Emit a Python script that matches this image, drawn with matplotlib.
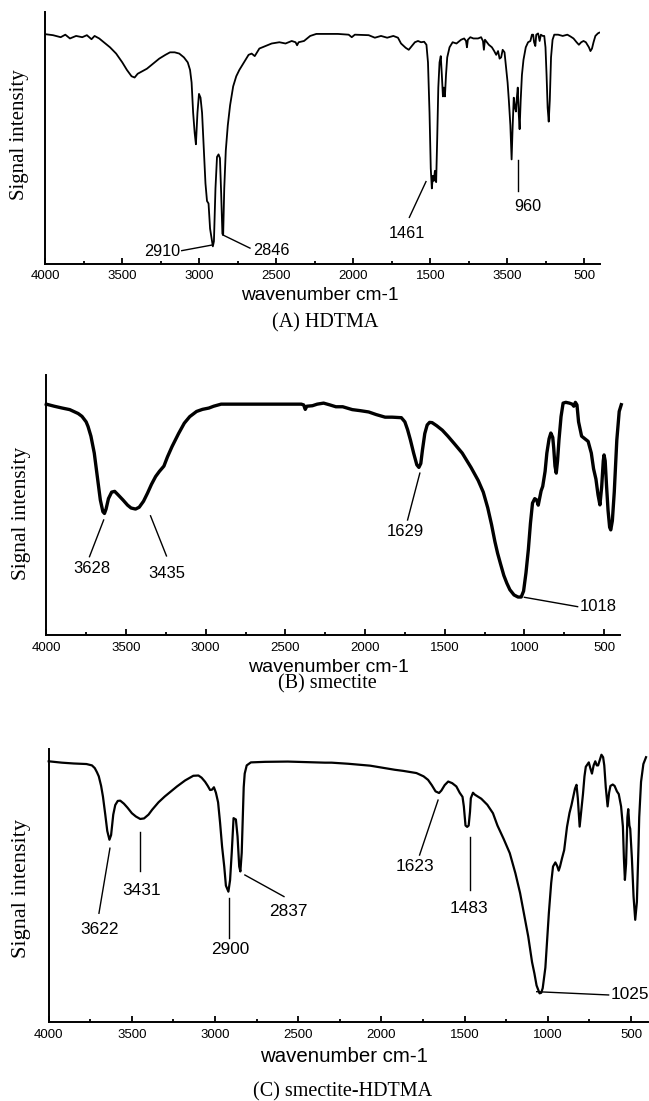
import matplotlib
matplotlib.use("Agg")
import matplotlib.pyplot as plt
import numpy as np

plt.rcParams['font.family'] = ['Liberation Sans', 'DejaVu Sans']

# ---------------- data (wavenumber, signal in % of axis height) ----------------
hdtma_wn = [4000, 3950, 3900, 3870, 3840, 3800, 3760, 3730, 3700, 3680, 3650, 3620, 3580, 3540,
            3500, 3470, 3440, 3420, 3400, 3370, 3340, 3300, 3260, 3220, 3190, 3160, 3130, 3100,
            3075, 3060, 3050, 3040, 3030, 3022, 3012, 3002, 2992, 2982, 2970, 2960, 2950, 2940,
            2930, 2912, 2905, 2895, 2885, 2875, 2866, 2858, 2850, 2845, 2838, 2828, 2815, 2800,
            2780, 2760, 2740, 2710, 2680, 2660, 2640, 2610, 2570, 2530, 2480, 2440, 2400, 2375,
            2365, 2355, 2320, 2280, 2240, 2100, 2030, 2010, 1990, 1900, 1860, 1820, 1780, 1740,
            1710, 1690, 1660, 1640, 1620, 1600, 1580, 1560, 1540, 1525, 1515, 1505, 1497, 1490,
            1483, 1477, 1470, 1462, 1455, 1448, 1440, 1432, 1425, 1418, 1412, 1405, 1398, 1390,
            1375, 1355, 1330, 1300, 1280, 1268, 1262, 1256, 1240, 1220, 1190, 1170, 1158, 1152,
            1145, 1120, 1100, 1085, 1072, 1060, 1050, 1040, 1030, 1018, 1008, 998, 990, 980,
            972, 965, 958, 950, 944, 938, 932, 926, 920, 913, 905, 895, 880, 865, 850, 840, 832,
            826, 818, 812, 800, 790, 782, 770, 760, 752, 745, 738, 731, 724, 716, 706, 695, 670,
            640, 610, 590, 570, 550, 535, 520, 505, 490, 470, 460, 450, 440, 428, 412, 403]
hdtma_sig = [91.2, 90.8, 90.0, 91.0, 89.5, 90.5, 90.0, 90.8, 89.2, 90.5, 89.5, 88.0, 86.0, 83.5,
             80.0, 77.0, 74.5, 74.0, 75.5, 76.5, 77.5, 79.5, 81.5, 83.0, 84.0, 84.0, 83.5, 82.0,
             80.0, 77.0, 72.0, 60.0, 52.0, 47.5, 60.0, 67.5, 66.0, 60.0, 45.0, 32.0, 25.0, 24.0,
             14.0, 7.0, 9.0, 30.0, 42.5, 43.5, 42.0, 28.0, 12.0, 11.5, 30.0, 45.0, 55.0, 63.0,
             70.5, 74.5, 77.0, 80.0, 83.0, 83.5, 82.5, 85.5, 86.5, 87.5, 88.0, 87.5, 88.5, 88.0,
             86.8, 88.0, 88.5, 90.5, 91.3, 91.3, 91.0, 90.0, 91.0, 90.8, 89.8, 90.5, 89.8, 90.5,
             89.8, 87.5, 85.8, 85.0, 86.5, 88.0, 88.5, 88.0, 88.2, 87.0, 80.0, 60.0, 38.0, 30.0,
             35.0, 33.0, 37.0, 32.5, 50.0, 70.0, 80.0, 82.5, 75.0, 66.5, 70.0, 66.5, 75.0, 82.0,
             86.0, 88.0, 87.5, 89.0, 89.5, 88.5, 86.0, 89.0, 90.0, 89.5, 89.5, 90.0, 88.5, 85.0,
             89.0, 87.0, 86.0, 84.5, 83.0, 84.5, 81.5, 82.0, 85.0, 84.0, 78.0, 72.0, 65.0, 55.0,
             41.5, 55.0, 66.0, 62.0, 60.5, 66.0, 70.0, 60.0, 53.5, 65.0, 75.0, 81.0, 86.0, 88.0,
             88.5, 91.0, 91.0, 88.0, 86.5, 91.0, 91.5, 88.5, 91.0, 90.5, 90.5, 86.0, 75.0, 62.0,
             56.5, 65.0, 82.0, 89.0, 91.0, 91.0, 90.5, 91.0, 90.3, 89.5, 88.0, 87.0, 88.0, 88.5,
             88.0, 86.0, 84.5, 85.5, 88.0, 90.5, 91.5, 91.8]

smec_wn = [4000, 3950, 3900, 3853, 3800, 3776, 3750, 3738, 3720, 3699, 3680, 3661, 3645, 3635,
           3625, 3610, 3590, 3571, 3550, 3519, 3490, 3468, 3440, 3417, 3390, 3365, 3340, 3314,
           3290, 3262, 3240, 3211, 3170, 3134, 3100, 3057, 3020, 2980, 2950, 2903, 2600, 2400,
           2385, 2375, 2365, 2330, 2300, 2260, 2220, 2183, 2140, 2080, 2030, 1977, 1930, 1874,
           1830, 1772, 1750, 1733, 1715, 1695, 1675, 1662, 1650, 1640, 1625, 1610, 1595, 1579,
           1550, 1515, 1480, 1438, 1390, 1335, 1290, 1258, 1230, 1206, 1185, 1168, 1150, 1129,
           1110, 1091, 1065, 1040, 1020, 1005, 990, 975, 962, 949, 935, 923, 913, 905, 895, 885,
           870, 859, 845, 834, 822, 816, 808, 800, 792, 783, 770, 757, 740, 718, 700, 690, 680,
           670, 660, 641, 620, 600, 580, 566, 551, 538, 526, 515, 505, 500, 493, 485, 475, 465,
           458, 448, 436, 420, 405, 392]
smec_sig = [88.8, 88.0, 87.3, 86.7, 85.2, 84.1, 82.0, 80.2, 76.5, 70.0, 61.0, 52.0, 47.5, 46.8,
            48.5, 52.5, 55.0, 55.3, 54.0, 52.0, 50.0, 48.9, 48.5, 49.2, 51.5, 54.6, 58.0, 61.0,
            63.0, 65.0, 68.5, 72.5, 77.5, 81.5, 84.0, 86.0, 86.8, 87.3, 88.0, 88.8, 88.8, 88.8,
            88.5, 86.8, 88.0, 88.2, 88.8, 89.2, 88.5, 87.8, 87.8, 86.7, 86.3, 85.8, 84.8, 83.8,
            83.8, 83.6, 82.0, 79.0, 75.0, 70.0, 65.5, 64.5, 66.0, 71.0, 77.5, 80.8, 81.8, 81.7,
            80.5, 78.8, 76.5, 73.5, 70.0, 64.5, 59.5, 55.0, 49.0, 42.5, 36.0, 31.5, 27.5, 23.0,
            20.0, 17.5, 15.5, 14.7, 14.7, 17.0, 24.0, 33.0, 43.0, 50.8, 52.5, 52.0, 50.0, 52.5,
            55.5, 57.2, 63.0, 70.0, 75.5, 77.7, 76.0, 72.0, 65.0, 62.3, 67.0, 75.0, 84.0, 89.2,
            89.5, 89.2, 88.8, 88.0, 89.5, 88.5, 82.0, 76.5, 75.5, 74.5, 70.0, 64.0, 60.0, 54.0,
            50.1, 57.0, 67.0, 69.3, 67.0, 58.0, 48.0, 41.5, 40.5, 44.0, 55.0, 75.0, 86.0, 88.6]

mix_wn = [4000, 3921, 3850, 3773, 3740, 3723, 3710, 3699, 3685, 3674, 3660, 3648, 3635, 3625,
          3612, 3600, 3585, 3570, 3548, 3526, 3500, 3476, 3450, 3427, 3400, 3378, 3340, 3303,
          3265, 3229, 3180, 3131, 3100, 3081, 3060, 3044, 3030, 3019, 3007, 2995, 2982, 2970,
          2958, 2945, 2935, 2920, 2910, 2900, 2889, 2875, 2865, 2855, 2848, 2840, 2834, 2828,
          2822, 2810, 2785, 2700, 2563, 2450, 2340, 2300, 2200, 2068, 1990, 1920, 1870, 1821,
          1790, 1747, 1720, 1698, 1675, 1654, 1640, 1620, 1599, 1575, 1550, 1530, 1513, 1505,
          1495, 1485, 1476, 1468, 1463, 1450, 1439, 1400, 1364, 1330, 1303, 1265, 1229, 1195,
          1167, 1140, 1118, 1095, 1081, 1068, 1050, 1040, 1031, 1015, 994, 980, 969, 955, 944,
          935, 927, 915, 902, 885, 870, 858, 846, 837, 828, 820, 809, 800, 789, 780, 772, 754,
          745, 735, 725, 715, 706, 698, 688, 678, 668, 661, 652, 641, 632, 624, 610, 599, 585,
          574, 560, 549, 543, 537, 530, 522, 517, 510, 505, 495, 485, 475, 465, 455, 451, 440,
          426, 410]
mix_sig = [95.5, 95.0, 94.7, 94.5, 94.0, 93.0, 91.5, 90.0, 86.5, 82.6, 76.0, 70.0, 66.8, 68.5,
           76.0, 79.5, 81.0, 81.1, 80.0, 78.5, 76.5, 75.3, 74.4, 74.6, 76.0, 77.8, 80.5, 82.6,
           84.5, 86.3, 88.5, 90.2, 90.3, 89.5, 88.0, 86.5, 85.0, 85.1, 86.0, 84.0, 80.5, 73.0,
           64.3, 57.0, 50.0, 47.8, 52.0, 62.0, 74.7, 74.2, 68.0, 57.0, 55.2, 62.0, 74.0, 86.0,
           91.0, 94.0, 95.1, 95.3, 95.4, 95.2, 95.0, 95.0, 94.6, 93.9, 93.1, 92.4, 92.0, 91.5,
           91.2, 90.0, 88.7, 86.8, 84.5, 83.9, 84.8, 86.8, 88.1, 87.5, 86.3, 84.0, 82.5, 79.0,
           72.0, 71.5, 72.0, 77.0, 82.0, 84.0, 83.3, 81.8, 79.6, 76.5, 72.0, 67.0, 61.9, 54.5,
           47.3, 38.5, 31.4, 22.0, 17.9, 13.5, 10.6, 10.8, 12.5, 20.0, 40.0, 51.0, 57.0, 58.5,
           57.2, 55.5, 57.0, 60.0, 63.0, 71.5, 76.6, 79.5, 83.0, 85.5, 86.9, 82.0, 71.6, 77.0,
           83.5, 90.0, 93.5, 95.1, 93.0, 91.0, 94.0, 95.5, 94.0, 94.0, 96.0, 97.9, 97.0, 94.0,
           86.0, 79.0, 84.0, 86.5, 87.0, 86.5, 84.5, 83.5, 79.0, 71.6, 60.0, 52.1, 58.0, 75.0,
           78.0, 72.0, 70.8, 60.0, 46.0, 37.5, 44.0, 65.0, 75.0, 88.0, 94.5, 97.0]

tick_vals = [4000, 3500, 3000, 2500, 2000, 1500, 1000, 500]
tick_labels_a = ['4000', '3500', '3000', '2500', '2000', '1500', '3500', '500']
tick_labels = ['4000', '3500', '3000', '2500', '2000', '1500', '1000', '500']

# peak labels: (text, line from, line to, text position, alignment)
peaks_a = [('2910', (2920, 7.5), (3114, 5.3), (3125, 4.9), 'right'),
           ('2846', (2846, 11.5), (2671, 6.3), (2651, 5.2), 'left'),
           ('1461', (1528, 32.7), (1636, 18.5), (1649, 12.2), 'center'),
           ('960', (929, 41.3), (929, 29.1), (870, 22.7), 'center')]
peaks_b = [('3628', (3640, 44.3), (3729, 30.2), (3716, 25.8), 'center'),
           ('3435', (3346, 45.9), (3246, 30.5), (3246, 23.8), 'center'),
           ('1629', (1656, 62.3), (1733, 44.3), (1746, 39.8), 'center'),
           ('1018', (1000, 14.6), (666, 11.0), (653, 11.0), 'left')]
peaks_c = [('3622', (3632, 63.7), (3698, 39.9), (3692, 34.0), 'center'),
           ('3431', (3451, 69.5), (3451, 55.4), (3441, 48.4), 'center'),
           ('2900', (2915, 45.4), (2915, 30.7), (2908, 26.7), 'center'),
           ('2837', (2821, 53.9), (2586, 46.0), (2562, 40.5), 'center'),
           ('1623', (1660, 81.3), (1771, 61.2), (1796, 56.9), 'center'),
           ('1483', (1470, 67.9), (1470, 48.4), (1475, 41.7), 'center'),
           ('1025', (1067, 11.2), (635, 10.0), (622, 10.0), 'left')]

W, H = 649, 1101
fig = plt.figure(figsize=(W / 100, H / 100), dpi=100)


def px_axes(left, right, top, bottom):
    return fig.add_axes([left / W, 1 - bottom / H, (right - left) / W, (bottom - top) / H])


def setup(ax, xmax_right, labels):
    ax.set_xlim(4000, xmax_right)
    ax.set_ylim(0, 100)
    for s in ['top', 'right']:
        ax.spines[s].set_visible(False)
    for s in ['left', 'bottom']:
        ax.spines[s].set_linewidth(1.4)
    ax.set_yticks([])
    ax.set_xticks(tick_vals)
    ax.set_xticklabels(labels, fontsize=9.5)
    ax.set_xticks(np.arange(3750, 400, -500), minor=True)
    ax.tick_params(axis='x', which='major', direction='in', length=4, width=1.3, pad=4.5)
    ax.tick_params(axis='x', which='minor', direction='in', length=2.2, width=1.3)


def add_peaks(ax, peaks, fs):
    for txt, p0, p1, pt, ha in peaks:
        ax.plot([p0[0], p1[0]], [p0[1], p1[1]], color='black', lw=1.0, clip_on=False)
        ax.text(pt[0], pt[1], txt, ha=ha, va='center', fontsize=fs)


serif = ['Liberation Serif', 'DejaVu Serif']

# (A) HDTMA
ax1 = px_axes(45.3, 600, 12, 264)
setup(ax1, 398, tick_labels_a)
ax1.plot(hdtma_wn, hdtma_sig, color='black', lw=1.3)
add_peaks(ax1, peaks_a, 11.7)
fig.text(320 / W, 1 - 295 / H, 'wavenumber cm-1', ha='center', va='center', fontsize=13.8)
fig.text(20 / W, 1 - 135 / H, 'Signal intensity', rotation=90, ha='center', va='center',
         fontsize=15, family=serif)
fig.text(325 / W, 1 - 323 / H, '(A) HDTMA', ha='center', va='center', fontsize=14.5, family=serif)

# (B) smectite
ax2 = px_axes(46.3, 620, 375, 635.3)
setup(ax2, 400, tick_labels)
ax2.plot(smec_wn, smec_sig, color='black', lw=2.4, clip_on=False)
add_peaks(ax2, peaks_b, 12)
fig.text(328 / W, 1 - 668 / H, 'wavenumber cm-1', ha='center', va='center', fontsize=14)
fig.text(21.7 / W, 1 - 513 / H, 'Signal intensity', rotation=90, ha='center', va='center',
         fontsize=15.3, family=serif)
fig.text(327 / W, 1 - 684 / H, '(B) smectite', ha='center', va='center', fontsize=14.5, family=serif)

# (C) smectite-HDTMA
ax3 = px_axes(48.7, 647.7, 749, 1022.3)
setup(ax3, 400, tick_labels)
ax3.plot(mix_wn, mix_sig, color='black', lw=1.6, clip_on=False)
add_peaks(ax3, peaks_c, 12.4)
fig.text(344 / W, 1 - 1057 / H, 'wavenumber cm-1', ha='center', va='center', fontsize=14.7)
fig.text(21.7 / W, 1 - 888 / H, 'Signal intensity', rotation=90, ha='center', va='center',
         fontsize=16, family=serif)
fig.text(343 / W, 1 - 1092 / H, '(C) smectite-HDTMA', ha='center', va='center', fontsize=14.5,
         family=serif)

fig.savefig('out.png', dpi=100)
